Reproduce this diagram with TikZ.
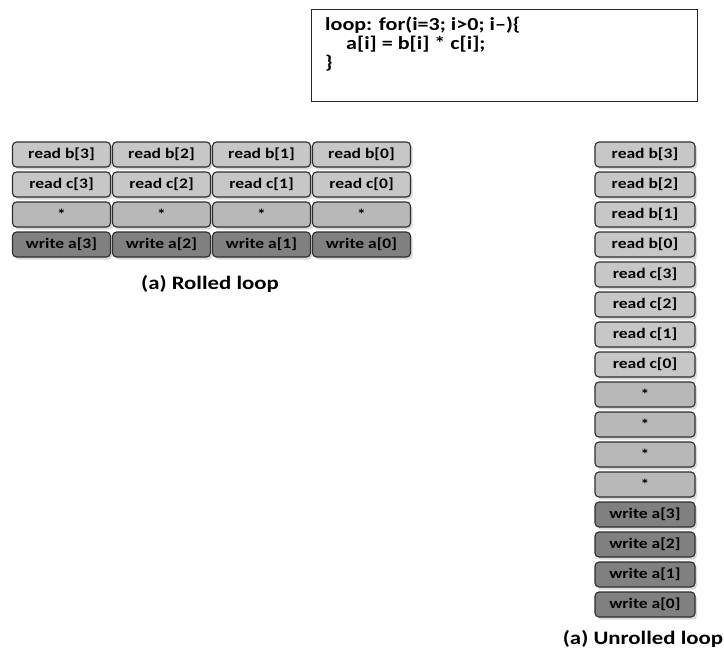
\documentclass[tikz,border=0pt]{standalone}
\usepackage{fontspec}
\setmainfont{Carlito}[FakeStretch=1.2]
\usetikzlibrary{shadows}
\begin{document}
\begin{tikzpicture}[x=1pt,y=-1pt,
  op/.style={draw=black!82, line width=1.1pt, rounded corners=4pt,
    minimum width=98pt, minimum height=25pt, inner sep=0pt,
    font=\bfseries\fontsize{14.6}{16}\selectfont,
    drop shadow={shadow xshift=2pt, shadow yshift=-2.5pt, opacity=0.3}},
  rd/.style={op, fill=black!22},
  mul/.style={op, fill=black!28},
  wr/.style={op, fill=black!50},
  lbl/.style={font=\bfseries\fontsize{19}{22}\selectfont, inner sep=0pt}]
\useasboundingbox (0,0) rectangle (724,651);

% the loop body
\node (code) [draw=black!85, line width=1.3pt, anchor=north west,
  minimum width=386pt, minimum height=92pt] at (311,9) {};
\node (src) [anchor=north west, align=left, inner sep=0pt,
  font=\bfseries\fontsize{18.4}{19}\selectfont] at (325,17)
  {loop: for(i=3; i>0; i--)\{\\ \hspace*{21pt}a[i] = b[i] * c[i];\\ \}};

% rolled: one column per iteration
\foreach \t [count=\i from 0] in {3,2,1,0} {
  \node (rb\t) [rd] at (61.5+100*\i,154.5) {read b[\t]};
  \node (rc\t) [rd] at (61.5+100*\i,184.5) {read c[\t]};
  \node (rm\t) [mul] at (61.5+100*\i,214.5) {*};
  \node (rw\t) [wr] at (61.5+100*\i,244.5) {write a[\t]};
}
\node (rollcap) [lbl] at (210,284) {(a) Rolled loop};

% unrolled: everything in one column
\foreach \t [count=\i from 0] in {3,2,1,0} {
  \node (ub\t) [rd, minimum width=100pt] at (645,154.5+30*\i) {read b[\t]};
  \node (uc\t) [rd, minimum width=100pt] at (645,274.5+30*\i) {read c[\t]};
  \node (um\t) [mul, minimum width=100pt] at (645,394.5+30*\i) {*};
  \node (uw\t) [wr, minimum width=100pt] at (645,514.5+30*\i) {write a[\t]};
}
\node (unrollcap) [lbl] at (643,639) {(a) Unrolled loop};
\end{tikzpicture}
\end{document}
